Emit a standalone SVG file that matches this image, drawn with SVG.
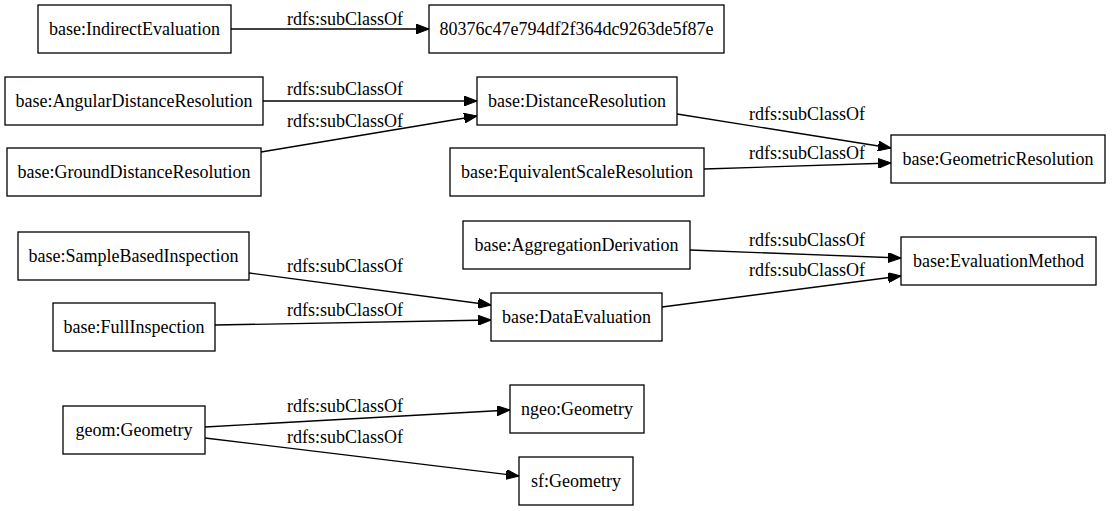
<svg xmlns="http://www.w3.org/2000/svg" width="1112" height="511" viewBox="0 0 1112 511">
<style>
.n rect{fill:#fff;stroke:#000;stroke-width:1.3}
text{font-family:"Liberation Serif","Times New Roman",serif;font-size:18px;fill:#000}
.n text{text-anchor:middle}
.e line{stroke:#000;stroke-width:1.3;marker-end:url(#ah)}
.e text{text-anchor:middle}
</style>
<defs>
<marker id="ah" markerUnits="userSpaceOnUse" markerWidth="14" markerHeight="10" refX="13" refY="5" orient="auto">
<path d="M0,0 L13,5 L0,10 Z" fill="#000" stroke="#000" stroke-width="1"/>
</marker>
</defs>
<rect width="1112" height="511" fill="#fff"/>
<g id="edges" class="e">
<line x1="231" y1="29" x2="429" y2="29"/><text x="345" y="25">rdfs:subClassOf</text>
<line x1="263" y1="101" x2="477" y2="101"/><text x="345" y="95">rdfs:subClassOf</text>
<line x1="261" y1="152" x2="477" y2="116"/><text x="345" y="127">rdfs:subClassOf</text>
<line x1="677" y1="114" x2="891" y2="148"/><text x="807" y="120">rdfs:subClassOf</text>
<line x1="704" y1="169" x2="891" y2="163"/><text x="807" y="159">rdfs:subClassOf</text>
<line x1="249" y1="273" x2="491" y2="305"/><text x="345" y="272">rdfs:subClassOf</text>
<line x1="215" y1="325" x2="491" y2="320"/><text x="345" y="316">rdfs:subClassOf</text>
<line x1="690" y1="250" x2="901" y2="258"/><text x="807" y="246">rdfs:subClassOf</text>
<line x1="662" y1="307" x2="901" y2="276"/><text x="807" y="276">rdfs:subClassOf</text>
<line x1="205" y1="427" x2="510" y2="410"/><text x="345" y="412">rdfs:subClassOf</text>
<line x1="205" y1="438" x2="519" y2="476"/><text x="345" y="443">rdfs:subClassOf</text>
</g>
<g id="n1" class="n"><rect x="38" y="5" width="193" height="48"/><text x="134.5" y="35">base:IndirectEvaluation</text></g>
<g id="n2" class="n"><rect x="429" y="5" width="295" height="48"/><text x="576.5" y="35">80376c47e794df2f364dc9263de5f87e</text></g>
<g id="n3" class="n"><rect x="5" y="77" width="258" height="48"/><text x="134" y="107">base:AngularDistanceResolution</text></g>
<g id="n4" class="n"><rect x="477" y="77" width="200" height="48"/><text x="577" y="107">base:DistanceResolution</text></g>
<g id="n5" class="n"><rect x="7" y="148" width="254" height="48"/><text x="134" y="178">base:GroundDistanceResolution</text></g>
<g id="n6" class="n"><rect x="891" y="135" width="214" height="48"/><text x="998" y="165">base:GeometricResolution</text></g>
<g id="n7" class="n"><rect x="450" y="148" width="254" height="48"/><text x="577" y="178">base:EquivalentScaleResolution</text></g>
<g id="n8" class="n"><rect x="463" y="221" width="227" height="48"/><text x="576.5" y="251">base:AggregationDerivation</text></g>
<g id="n9" class="n"><rect x="901" y="237" width="195" height="48"/><text x="998.5" y="267">base:EvaluationMethod</text></g>
<g id="n10" class="n"><rect x="18" y="232" width="231" height="48"/><text x="133.5" y="262">base:SampleBasedInspection</text></g>
<g id="n11" class="n"><rect x="53" y="303" width="162" height="48"/><text x="134" y="333">base:FullInspection</text></g>
<g id="n12" class="n"><rect x="491" y="293" width="171" height="48"/><text x="576.5" y="323">base:DataEvaluation</text></g>
<g id="n13" class="n"><rect x="63" y="406" width="142" height="48"/><text x="134" y="436">geom:Geometry</text></g>
<g id="n14" class="n"><rect x="510" y="385" width="134" height="48"/><text x="577" y="415">ngeo:Geometry</text></g>
<g id="n15" class="n"><rect x="519" y="457" width="114" height="48"/><text x="576" y="487">sf:Geometry</text></g>
</svg>
